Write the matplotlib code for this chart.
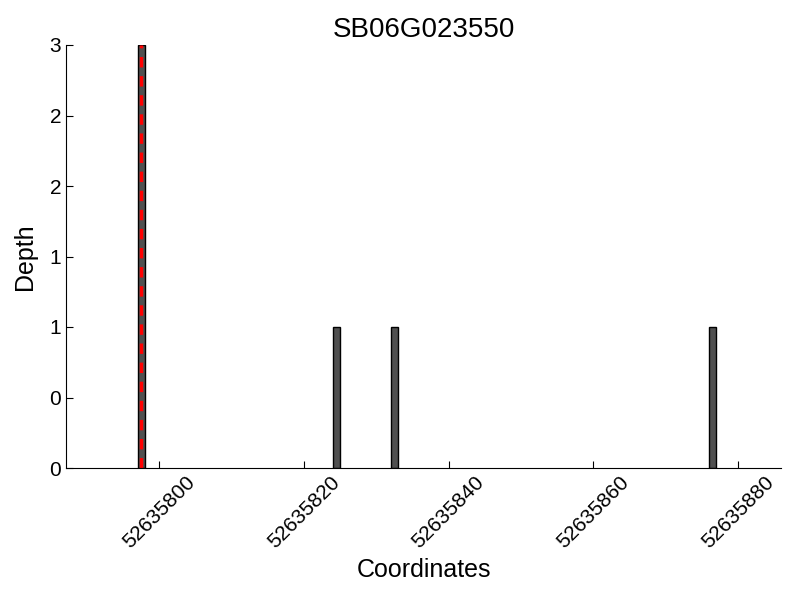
import numpy as np
import matplotlib
matplotlib.use("Agg")
from matplotlib import pyplot as plt
from matplotlib.ticker import FormatStrFormatter, MultipleLocator

plt.rcParams["font.family"] = ["Liberation Sans", "DejaVu Sans"]

title = "SB06G023550"
positions = [52635797, 52635824, 52635832, 52635876]
depths = [3, 1, 1, 1]
marker_pos = 52635797.5
xticks = [52635800, 52635820, 52635840, 52635860, 52635880]

fig = plt.figure(figsize=(8, 6), dpi=100)
ax = fig.add_axes([0.0825, 0.22, 0.894, 0.705])

ax.bar(positions, depths, width=1, align="edge", color="#505050",
       edgecolor="black", linewidth=1)
ax.axvline(marker_pos, color="red", linestyle="--", linewidth=2.5, dashes=(3, 2.5))

ax.set_xlim(52635787.1, 52635886.0)
ax.set_ylim(0, 3)
ax.set_xticks(xticks)
ax.xaxis.set_major_formatter(FormatStrFormatter("%d"))
ax.yaxis.set_major_locator(MultipleLocator(0.5))
ax.yaxis.set_major_formatter(FormatStrFormatter("%d"))

for s in ["top", "right"]:
    ax.spines[s].set_visible(False)
ax.tick_params(direction="in", labelsize=15, length=5)
plt.setp(ax.get_xticklabels(), rotation=45)

ax.set_xlabel("Coordinates", fontsize=18)
ax.set_ylabel("Depth", fontsize=18, labelpad=9)
ax.set_title(title, fontsize=20)

fig.savefig("out.png")
